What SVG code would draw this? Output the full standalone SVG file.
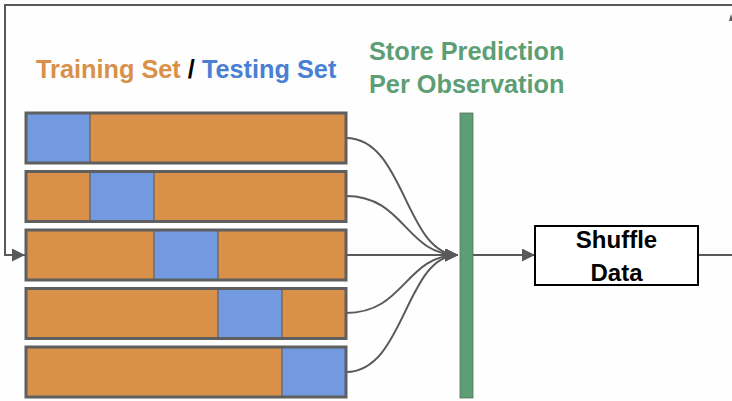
<svg xmlns="http://www.w3.org/2000/svg" width="732" height="401" viewBox="0 0 732 401">
<defs>
<style>
.txt{font-family:"Liberation Sans",Arial,sans-serif;font-weight:bold}
.tr{fill:#d9914a}
.te{fill:#7399e0}
.row{fill:none;stroke:#5f5f5f;stroke-width:3}
.seg{stroke:#5f5f5f;stroke-width:1.2}
.conn{fill:none;stroke:#595959;stroke-width:2}
</style>
<marker id="ahs" viewBox="0 0 10 10" refX="10" refY="5" markerWidth="14" markerHeight="13" markerUnits="userSpaceOnUse" orient="auto">
<path d="M0,0 L10,5 L0,10 z" fill="#595959"/>
</marker>
</defs>
<rect width="732" height="401" fill="#fefefe"/>
<g id="labels">
<text class="txt" x="36" y="78" font-size="25.3"><tspan fill="#d9914a">Training Set</tspan><tspan fill="#000"> / </tspan><tspan fill="#4a7fd4">Testing Set</tspan></text>
<text class="txt" x="369" y="60" font-size="25.3" fill="#5d9e74">Store Prediction</text>
<text class="txt" x="369" y="93" font-size="25.3" fill="#5d9e74">Per Observation</text>
</g>
<g id="connectors">
<path class="conn" d="M732,5 L5,5 L5,255 L25,255" marker-end="url(#ahs)"/>
<path d="M729,21 L731,14 L733,21 z" fill="#595959"/>
<path class="conn" d="M346,138 C405,138 405,255 458,255" marker-end="url(#ahs)"/>
<path class="conn" d="M346,196 C405,196 405,255 458,255" marker-end="url(#ahs)"/>
<path class="conn" d="M346,255 L458,255" marker-end="url(#ahs)"/>
<path class="conn" d="M346,313 C405,313 405,255 458,255" marker-end="url(#ahs)"/>
<path class="conn" d="M346,372 C405,372 405,255 458,255" marker-end="url(#ahs)"/>
<path class="conn" d="M473,255 L535,255" marker-end="url(#ahs)"/>
<path class="conn" d="M698,255 L732,255"/>
</g>
<g id="fold1">
<rect class="tr" x="26" y="113" width="320" height="50"/>
<rect class="te seg" x="26" y="113" width="64" height="50"/>
<rect class="row" x="26" y="113" width="320" height="50"/>
</g>
<g id="fold2">
<rect class="tr" x="26" y="171.5" width="320" height="50"/>
<rect class="te seg" x="90" y="171.5" width="64" height="50"/>
<rect class="row" x="26" y="171.5" width="320" height="50"/>
</g>
<g id="fold3">
<rect class="tr" x="26" y="230" width="320" height="50"/>
<rect class="te seg" x="154" y="230" width="64" height="50"/>
<rect class="row" x="26" y="230" width="320" height="50"/>
</g>
<g id="fold4">
<rect class="tr" x="26" y="288.5" width="320" height="50"/>
<rect class="te seg" x="218" y="288.5" width="64" height="50"/>
<rect class="row" x="26" y="288.5" width="320" height="50"/>
</g>
<g id="fold5">
<rect class="tr" x="26" y="347" width="320" height="50"/>
<rect class="te seg" x="282" y="347" width="64" height="50"/>
<rect class="row" x="26" y="347" width="320" height="50"/>
</g>
<g id="store">
<rect x="460" y="113" width="13" height="285" fill="#5d9e74" stroke="#5a6e60" stroke-width="0.8"/>
</g>
<g id="shuffle">
<rect x="535" y="226" width="163" height="59" fill="#fff" stroke="#000" stroke-width="2"/>
<text class="txt" x="616.5" y="248" font-size="24" text-anchor="middle" fill="#000">Shuffle</text>
<text class="txt" x="616.5" y="281" font-size="24" text-anchor="middle" fill="#000">Data</text>
</g>
</svg>
